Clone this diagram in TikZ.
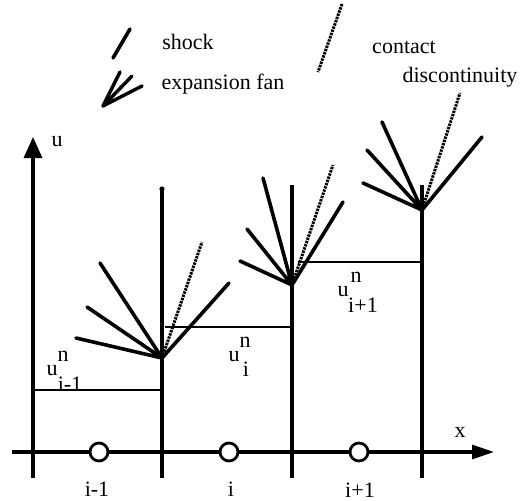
\documentclass[tikz,border=0pt]{standalone}
\usepackage{fontspec}
\setmainfont{Liberation Serif}
\usetikzlibrary{arrows.meta}
\begin{document}
\begin{tikzpicture}[x=1pt,y=-1pt,
  lbl/.style={font=\fontsize{22}{24}\selectfont, inner sep=0pt},
  ray/.style={line width=3.6pt, line cap=round},
  contactline/.style={line width=3pt, dash pattern=on 2.4pt off 1pt},
  cellline/.style={line width=4.4pt},
  levelline/.style={line width=2.8pt},
  axisline/.style={line width=3.2pt},
  cellpt/.style={circle, draw, line width=2.8pt, fill=white, minimum size=18pt, inner sep=0pt}]
\useasboundingbox (0,0) rectangle (520,501);

% legend
\coordinate (s1) at (130,29); \coordinate (s2) at (113,58);
\draw[ray] (s1) -- (s2);
\node[lbl] (tshock) at (188,42) {shock};
\coordinate (lf) at (103,106);
\coordinate (lf1) at (120,72); \coordinate (lf2) at (132,76); \coordinate (lf3) at (142,86);
\draw[ray, line width=3.4pt] (lf) -- (lf1) (lf) -- (lf2) (lf) -- (lf3);
\node[lbl] (tfan) at (223,84) {expansion fan};
\coordinate (c1) at (342,4); \coordinate (c2) at (318,72);
\draw[contactline] (c1) -- (c2);
\node[lbl] (tcontact) at (404,47) {contact};
\node[lbl] (tdisc) at (460,77) {discontinuity};

% axes
\coordinate (xo) at (12,452); \coordinate (xe) at (494,452);
\draw[axisline, -{Triangle[length=22pt,width=14pt]}] (xo) -- (xe);
\node[lbl] (xl) at (460,432) {x};
\coordinate (uo) at (33,478); \coordinate (ue) at (33,137);
\draw[axisline, -{Triangle[length=21pt,width=18pt]}] (uo) -- (ue);
\node[lbl] (ul) at (57,142) {u};

% cell boundaries
\coordinate (b1a) at (162,478); \coordinate (b1b) at (162,189);
\coordinate (b2a) at (292,478); \coordinate (b2b) at (292,185);
\coordinate (b3a) at (422,478); \coordinate (b3b) at (422,185);
\draw[cellline] (b1a) -- (b1b);
\fill (b1b) circle (2.6pt);
\draw[cellline] (b2a) -- (b2b);
\draw[cellline, line width=3.8pt] (b3a) -- (b3b);

% levels
\coordinate (l1a) at (33,390); \coordinate (l1b) at (160,390);
\coordinate (l2a) at (165,327); \coordinate (l2b) at (292,327);
\coordinate (l3a) at (298,262); \coordinate (l3b) at (422,262);
\draw[levelline] (l1a) -- (l1b);
\draw[levelline] (l2a) -- (l2b);
\draw[levelline] (l3a) -- (l3b);

% fan 1
\coordinate (A1) at (162,358);
\coordinate (A1r1) at (100,263); \coordinate (A1r2) at (87,307); \coordinate (A1r3) at (76,338);
\coordinate (A1c) at (202,242); \coordinate (A1s) at (229,283);
\draw[ray] (A1) -- (A1r1) (A1) -- (A1r2) (A1) -- (A1r3) (A1) -- (A1s);
\draw[contactline] (A1) -- (A1c);

% fan 2
\coordinate (A2) at (292,285);
\coordinate (A2r1) at (263,178); \coordinate (A2r2) at (247,229); \coordinate (A2r3) at (240,261);
\coordinate (A2c) at (333,165); \coordinate (A2s) at (343,202);
\draw[ray] (A2) -- (A2r1) (A2) -- (A2r2) (A2) -- (A2r3) (A2) -- (A2s);
\draw[contactline] (A2) -- (A2c);

% fan 3
\coordinate (A3) at (422,210);
\coordinate (A3r1) at (382,122); \coordinate (A3r2) at (367,150); \coordinate (A3r3) at (363,183);
\coordinate (A3c) at (460,93); \coordinate (A3s) at (482,137);
\draw[ray] (A3) -- (A3r1) (A3) -- (A3r2) (A3) -- (A3r3) (A3) -- (A3s);
\draw[contactline] (A3) -- (A3c);

% cell centres
\node[cellpt] (p1) at (99,452) {};
\node[cellpt] (p2) at (229,452) {};
\node[cellpt] (p3) at (359,452) {};
\node[lbl] (n1) at (97,489) {i-1};
\node[lbl] (n2) at (231,489) {i};
\node[lbl] (n3) at (360,490) {i+1};

% values
\node[lbl] (u1) at (52,371) {u};
\node[lbl] (u1n) at (63,356) {n};
\node[lbl] (u1i) at (70,384) {i-1};
\node[lbl] (u2) at (234,357) {u};
\node[lbl] (u2n) at (245,342) {n};
\node[lbl] (u2i) at (246,369) {i};
\node[lbl] (u3) at (343,292) {u};
\node[lbl] (u3n) at (356,277) {n};
\node[lbl] (u3i) at (363,305) {i+1};
\end{tikzpicture}
\end{document}
